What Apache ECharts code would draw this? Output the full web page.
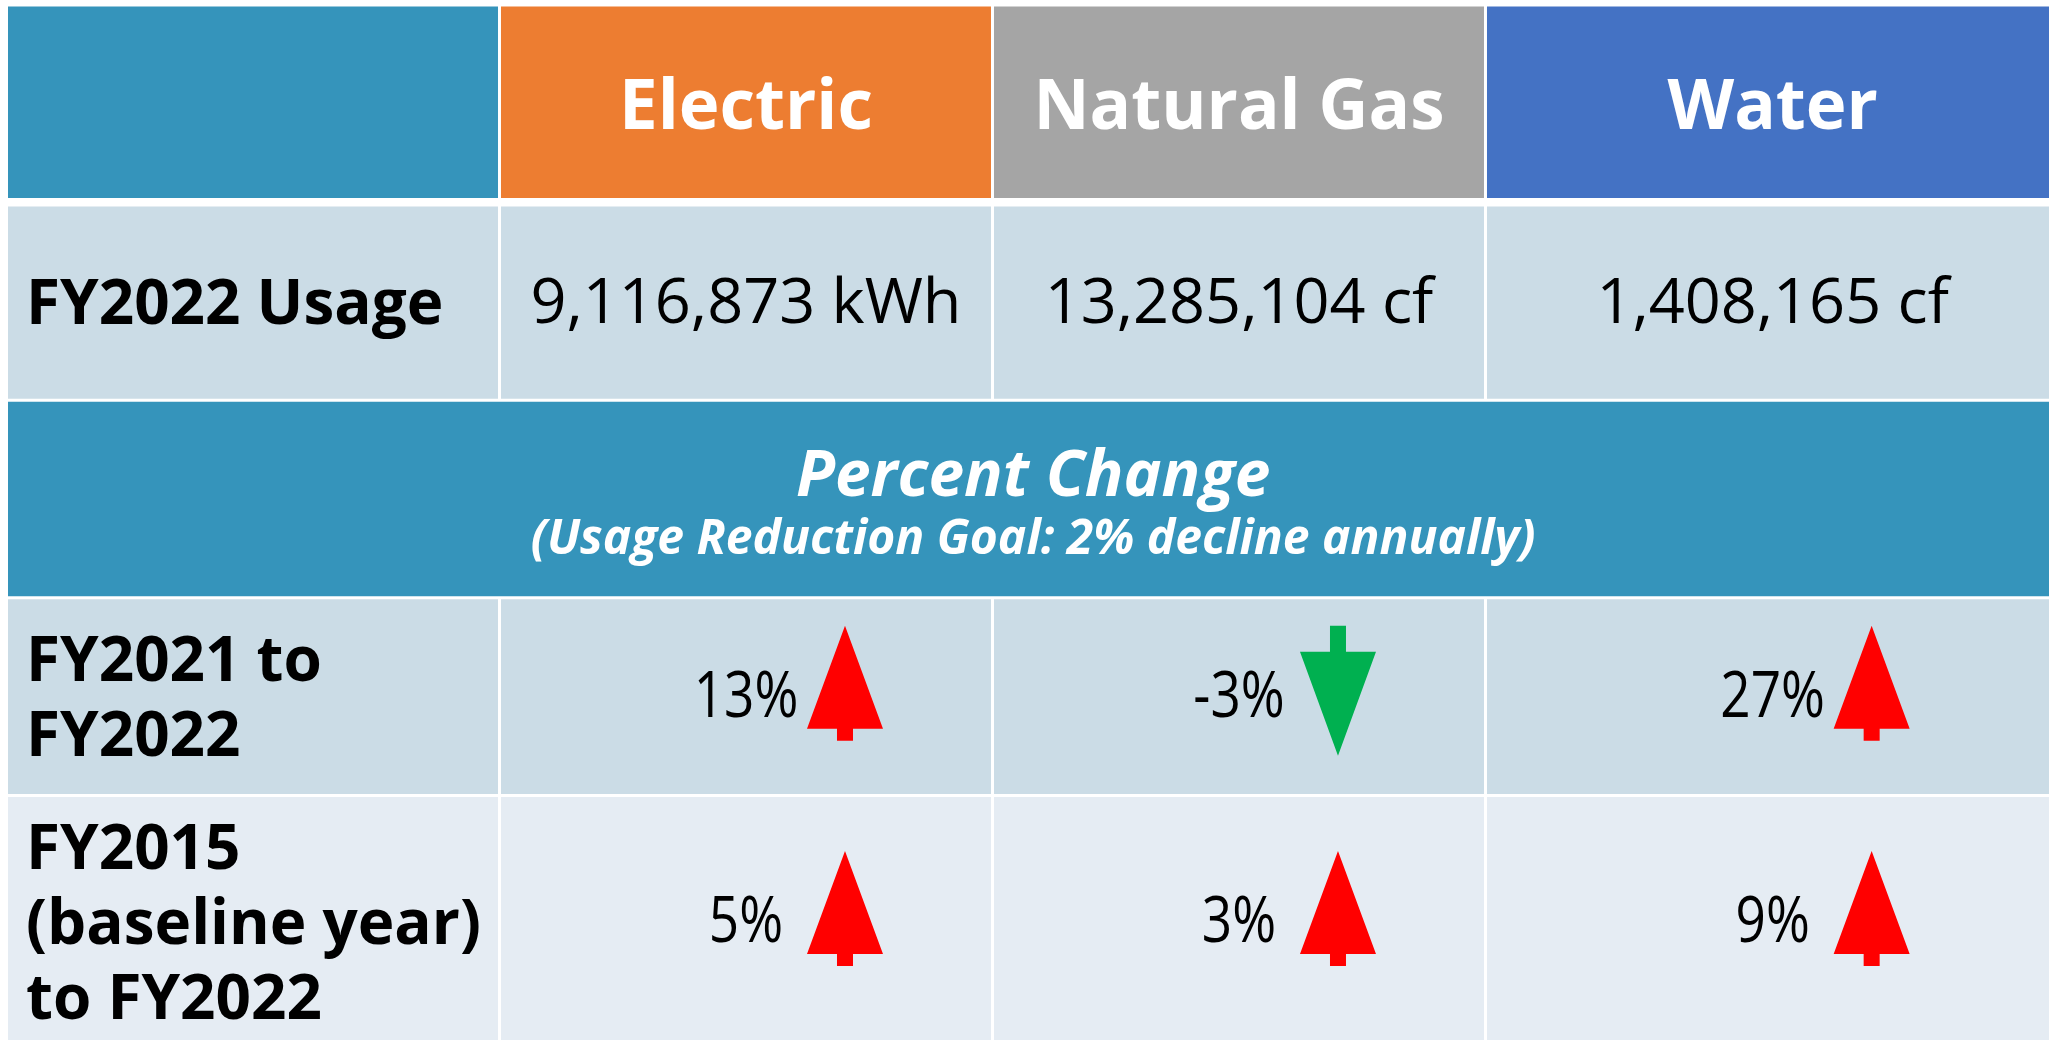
<!DOCTYPE html>
<html>
<head>
<meta charset="utf-8">
<title>Utility usage</title>
<script src="https://cdn.jsdelivr.net/npm/echarts@6/dist/echarts.min.js"></script>
<style>
html, body { margin: 0; padding: 0; background: #fff; }
#main { width: 2049px; height: 1040px; }
</style>
</head>
<body>
<div id="main"></div>
<script>
// table content
var columns = ['Electric', 'Natural Gas', 'Water'];
var rowLabels = ['FY2022 Usage', 'FY2021 to\nFY2022', 'FY2015\n(baseline year)\nto FY2022'];
var usageValues = [9116873, 13285104, 1408165];
var usageUnits = ['kWh', 'cf', 'cf'];
var change2021 = [13, -3, 27];
var change2015 = [5, 3, 9];
var sectionTitle = 'Percent Change';
var sectionNote = '(Usage Reduction Goal: 2% decline annually)';

var headColors = ['#3594BB', '#ED7D31', '#A5A5A5', '#4472C4'];
var bandDark = '#CBDCE6';
var bandLight = '#E5ECF3';
var FONT = 'Open Sans';
// the last column and the last row run past the picture edge
var lastCol = 4.165, lastRow = 5.28;

function fmt(n) {
    return n.toString().replace(/\B(?=(\d{3})+(?!\d))/g, ',');
}
function colEnd(i) {
    return i === columns.length - 1 ? lastCol : i + 2;
}

var cells = [];
cells.push({ value: [0, 0, 1, 1], fill: headColors[0] });
for (var i = 0; i < columns.length; i++) {
    cells.push({ value: [i + 1, 0, colEnd(i), 1], fill: headColors[i + 1], kind: 'head', text: columns[i] });
}
cells.push({ value: [0, 1, 1, 2], fill: bandDark, kind: 'label', text: rowLabels[0] });
for (var i = 0; i < usageValues.length; i++) {
    cells.push({ value: [i + 1, 1, colEnd(i), 2], fill: bandDark, kind: 'value', text: fmt(usageValues[i]) + ' ' + usageUnits[i] });
}
cells.push({ value: [0, 2, lastCol, 3], fill: headColors[0], kind: 'section' });
var pctRows = [change2021, change2015];
for (var r = 0; r < pctRows.length; r++) {
    var y0 = 3 + r, y1 = r === pctRows.length - 1 ? lastRow : y0 + 1;
    var fill = r === 0 ? bandDark : bandLight;
    cells.push({ value: [0, y0, 1, y1], fill: fill, kind: 'label', text: rowLabels[r + 1] });
    for (var i = 0; i < pctRows[r].length; i++) {
        cells.push({ value: [i + 1, y0, colEnd(i), y1], fill: fill, kind: 'pct', pct: pctRows[r][i] });
    }
}

function arrowPoints(ax, t, up) {
    if (up) {
        return [[ax, t], [ax + 38, t + 103], [ax + 8, t + 103], [ax + 8, t + 115],
            [ax - 8, t + 115], [ax - 8, t + 103], [ax - 38, t + 103]];
    }
    return [[ax - 8, t], [ax + 8, t], [ax + 8, t + 26], [ax + 38, t + 26],
        [ax, t + 130], [ax - 38, t + 26], [ax - 8, t + 26]];
}

function renderCell(params, api) {
    var c = cells[params.dataIndex];
    var p0 = api.coord([c.value[0], c.value[1]]);
    var p1 = api.coord([c.value[2], c.value[3]]);
    var top = p0[1] + (c.value[1] === 1 ? 2.5 : 0);
    var gap = c.value[1] === 0 ? 6 : 3;
    var x = p0[0], w = p1[0] - p0[0] - 3, h = p1[1] - top - gap;
    var cx = x + w / 2, cy = top + h / 2;
    var kids = [{ type: 'rect', shape: { x: x, y: top, width: w, height: h }, style: { fill: c.fill } }];

    if (c.kind === 'head') {
        kids.push({ type: 'text', x: cx, y: cy + 7, style: {
            text: c.text, fill: '#fff', font: 'bold 69px "' + FONT + '"', align: 'center', verticalAlign: 'middle' } });
    } else if (c.kind === 'label') {
        kids.push({ type: 'text', x: x + 18, y: cy + 4, style: {
            text: c.text, fill: '#000', font: 'bold 62px "' + FONT + '"', lineHeight: 75, align: 'left', verticalAlign: 'middle' } });
    } else if (c.kind === 'value') {
        kids.push({ type: 'text', x: cx, y: cy + 2, style: {
            text: c.text, fill: '#000', font: '63px "' + FONT + '"', align: 'center', verticalAlign: 'middle' } });
    } else if (c.kind === 'section') {
        kids.push({ type: 'text', x: cx, y: cy - 21, style: {
            text: sectionTitle, fill: '#fff', font: 'italic bold 64px "' + FONT + '"', align: 'center', verticalAlign: 'middle' } });
        kids.push({ type: 'text', x: cx, y: cy + 41, style: {
            text: sectionNote, fill: '#fff', font: 'italic bold 48px "' + FONT + '"', align: 'center', verticalAlign: 'middle' } });
    } else if (c.kind === 'pct') {
        kids.push({ type: 'text', x: cx, y: cy + 2, scaleX: 0.83, style: {
            text: c.pct + '%', fill: '#000', font: '64px "' + FONT + '"', align: 'center', verticalAlign: 'middle' } });
        var up = c.pct >= 0;
        kids.push({ type: 'polygon', shape: { points: arrowPoints(cx + 99, cy - 71, up) },
            style: { fill: up ? '#FF0000' : '#00B050' } });
    }
    return { type: 'group', children: kids };
}

var myChart = echarts.init(document.getElementById('main'));
var option = {
    animation: false
    , backgroundColor: '#fff'
    , textStyle: { fontFamily: FONT }
    , grid: { left: 8, top: 6.5, right: 0, bottom: 0 }
    , xAxis: { type: 'value', min: 0, max: 4.14, show: false }
    , yAxis: { type: 'value', min: 0, max: 5.23, inverse: true, show: false }
    , series: [{
        type: 'custom'
        , coordinateSystem: 'cartesian2d'
        , silent: true
        , encode: { x: [0, 2], y: [1, 3] }
        , renderItem: renderCell
        , data: cells.map(function (c) { return c.value; })
    }]
};
myChart.setOption(option);
</script>
</body>
</html>
